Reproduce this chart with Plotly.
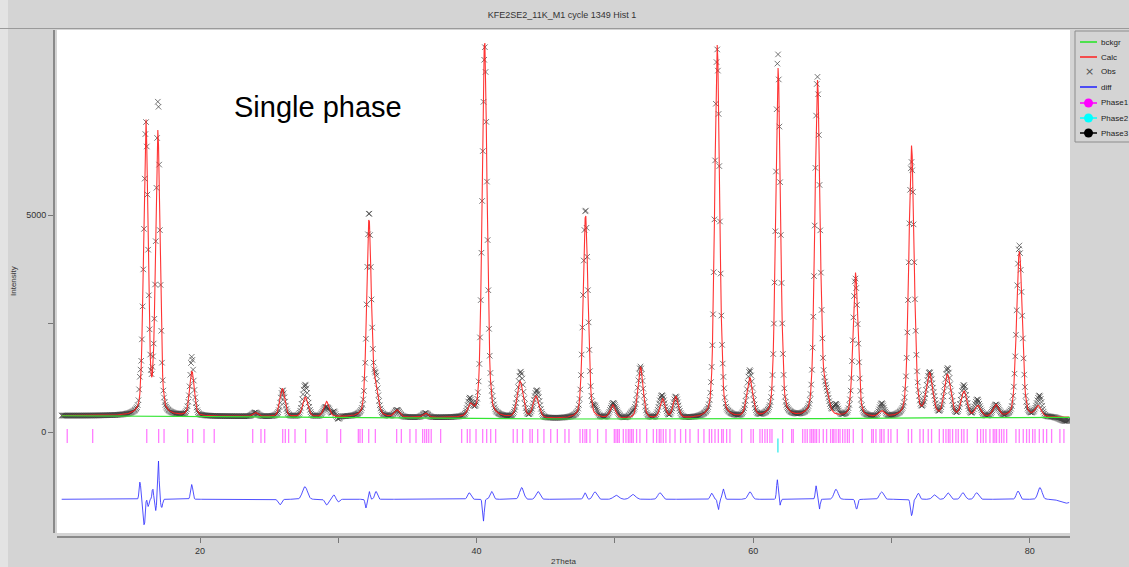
import numpy as np
import plotly.graph_objects as go

# ---------------- data ----------------
TITLE = "KFE2SE2_11K_M1 cycle 1349 Hist 1"

# Bragg peaks of the calculated pattern: position (2theta), height above background, FWHM
peak_pos = [16.08, 16.95, 19.42, 24.0, 25.95, 27.62, 29.15, 32.22, 32.72, 34.25,
            36.3, 39.55, 40.58, 43.15, 44.30, 47.88, 49.85, 51.85, 53.45, 54.40,
            57.40, 59.75, 61.80, 64.65, 65.25, 67.40, 69.3, 71.45, 72.75, 74.05,
            75.25, 76.25, 77.55, 79.25, 80.60]
peak_height = [6800, 6500, 1020, 90, 650, 450, 350, 4550, 600, 160,
               100, 240, 8700, 830, 500, 4700, 300, 1190, 440, 490,
               8600, 900, 8050, 7750, 450, 3330, 130, 6250, 980, 960,
               580, 250, 270, 3820, 240]
peak_fwhm = [0.38, 0.38, 0.40, 0.45, 0.42, 0.45, 0.45, 0.40, 0.42, 0.45,
             0.45, 0.45, 0.42, 0.50, 0.50, 0.42, 0.45, 0.45, 0.45, 0.45,
             0.42, 0.50, 0.42, 0.44, 0.50, 0.42, 0.50, 0.45, 0.55, 0.55,
             0.50, 0.50, 0.50, 0.48, 0.50]
LORENTZ_FRACTION = 0.3

# Background (bckgr) control points
bg_pos = [10.0, 20.0, 30.0, 40.0, 46.0, 55.0, 65.0, 75.0, 82.9]
bg_val = [375, 360, 340, 315, 300, 300, 310, 330, 335]

# Features of the difference curve (Obs - Calc): position, amplitude, width
diff_pos = [15.66, 15.97, 16.26, 16.58, 16.80, 16.99, 17.23, 19.40, 25.78, 27.59,
            29.16, 29.69, 30.0, 32.0, 32.24, 32.73, 39.47, 40.49, 41.09, 43.26,
            44.44, 47.84, 48.56, 50.1, 51.3, 53.26, 57.0, 57.48, 57.84, 59.77,
            61.75, 61.94, 64.55, 64.79, 65.99, 67.48, 69.29, 71.46, 71.94, 73.1,
            74.08, 75.17, 76.16, 79.15, 80.74, 82.6]
diff_amp = [400, -620, -170, 250, -260, 900, -200, 340, -130, 290,
            -130, 100, -60, -200, 180, 180, 150, -510, 180, 270,
            180, 150, 170, 90, 110, 150, 140, -250, 240, 170,
            450, -140, 310, -230, 230, -230, 170, -380, 140, 100,
            150, 150, 150, 190, 270, -90]
diff_width = [0.06, 0.06, 0.05, 0.05, 0.05, 0.05, 0.06, 0.08, 0.12, 0.18,
              0.12, 0.10, 0.10, 0.06, 0.06, 0.10, 0.12, 0.06, 0.12, 0.15,
              0.15, 0.10, 0.15, 0.20, 0.20, 0.15, 0.10, 0.06, 0.08, 0.15,
              0.06, 0.05, 0.06, 0.05, 0.15, 0.08, 0.15, 0.08, 0.10, 0.15,
              0.15, 0.15, 0.15, 0.12, 0.15, 0.40]

# Reflection tick marks
phase1_ticks = [10.40, 12.24, 16.15, 17.01, 17.40, 19.11, 19.47, 20.29, 21.03, 23.81,
                24.41, 24.68, 25.98, 26.17, 26.41, 26.87, 27.64, 29.18, 30.17, 31.45,
                31.57, 31.74, 32.20, 32.68, 34.22, 34.56, 35.18, 35.62, 36.10, 36.25,
                36.39, 36.54, 36.72, 37.40, 38.92, 39.33, 39.52, 39.96, 40.44, 40.73,
                41.02, 41.38, 42.65, 42.94, 43.33, 43.86, 44.03, 44.42, 44.87, 45.36,
                45.84, 46.39, 46.68, 47.48, 47.67, 47.84, 47.96, 48.20, 48.75, 49.36,
                49.96, 50.08, 50.20, 50.32, 50.61, 50.80, 50.97, 51.09, 51.21, 51.33,
                51.57, 51.81, 52.30, 52.78, 53.02, 53.21, 53.33, 53.50, 53.69, 53.98,
                54.35, 54.75, 55.12, 55.43, 56.03, 56.44, 56.83, 57.00, 57.24, 57.48,
                57.72, 57.84, 58.08, 58.32, 59.17, 59.84, 60.01, 60.49, 60.66, 60.85,
                61.02, 61.21, 61.36, 62.13, 62.78, 62.90, 63.58, 63.75, 63.91, 64.11,
                64.23, 64.35, 64.47, 64.59, 64.78, 65.07, 65.31, 65.60, 65.75, 65.84,
                65.99, 66.16, 66.28, 66.47, 66.64, 66.81, 66.95, 67.24, 67.89, 68.57,
                68.69, 68.88, 69.17, 69.29, 69.46, 69.77, 69.96, 70.42, 71.22, 71.46,
                72.06, 72.30, 72.66, 72.90, 73.46, 73.75, 73.94, 74.11, 74.23, 74.42,
                74.66, 74.83, 75.07, 75.24, 75.48, 76.21, 76.45, 76.64, 76.83, 77.12,
                77.36, 77.48, 77.60, 77.80, 77.96, 78.13, 78.33, 79.00, 79.24, 79.53,
                79.77, 79.97, 80.21, 80.38, 80.69, 80.98, 81.22, 81.58, 82.18, 82.47]
phase2_ticks = [61.79]
phase3_ticks = []

X_TICKS = [20, 30, 40, 50, 60, 70, 80]
X_TICK_TEXT = ["20", "", "40", "", "60", "", "80"]
Y_TICKS = [0, 2500, 5000]
Y_TICK_TEXT = ["0", "", "5000"]

TT_START, TT_STOP, TT_STEP = 10.0, 82.9, 0.05

# ---------------- build pattern ----------------
tt = np.arange(TT_START, TT_STOP, TT_STEP)
bckgr = np.interp(tt, bg_pos, bg_val)
calc = bckgr.copy()
for p, h, f in zip(peak_pos, peak_height, peak_fwhm):
    z = (tt - p) / f
    g = np.exp(-4 * np.log(2) * z ** 2)
    lo = 1.0 / (1.0 + 4 * z ** 2)
    calc += h * ((1 - LORENTZ_FRACTION) * g + LORENTZ_FRACTION * lo)
dev = np.zeros_like(tt)
for p, a, w in zip(diff_pos, diff_amp, diff_width):
    dev += a * np.exp(-0.5 * ((tt - p) / w) ** 2)
obs = calc + dev
DIFF_OFFSET = -1550
diff = obs - calc + DIFF_OFFSET

TICK1_Y = -92
TICK2_Y = -311

# ---------------- layout geometry ----------------
W, H = 1129, 567
L, R, T, B = 54, 59, 30, 30
PW, PH = W - L - R, H - T - B


def px_x(p):
    return (p - L) / PW


def px_y(p):
    return (H - B - p) / PH


X_RANGE = [9.66, 82.91]
Y_RANGE = [-2327, 9263]

fig = go.Figure()
fig.add_trace(go.Scatter(x=tt, y=obs, mode="markers", name="Obs", showlegend=False,
                         marker=dict(symbol="x-thin", size=5.5,
                                     line=dict(width=1, color="rgba(60,60,60,0.7)"))))
fig.add_trace(go.Scatter(x=tt, y=calc, mode="lines", name="Calc", showlegend=False,
                         line=dict(color="rgba(255,30,30,0.9)", width=1.1)))
fig.add_trace(go.Scatter(x=bg_pos, y=bg_val, mode="lines", name="bckgr", showlegend=False,
                         line=dict(color="#33e633", width=1.2)))
fig.add_trace(go.Scatter(x=tt, y=diff, mode="lines", name="diff", showlegend=False,
                         line=dict(color="rgba(50,50,255,0.85)", width=1)))
fig.add_trace(go.Scatter(x=phase1_ticks, y=[TICK1_Y] * len(phase1_ticks), mode="markers",
                         name="Phase1", showlegend=False,
                         marker=dict(symbol="line-ns", size=10,
                                     line=dict(width=1.3, color="rgba(255,70,255,0.7)"))))
fig.add_trace(go.Scatter(x=phase2_ticks, y=[TICK2_Y] * len(phase2_ticks), mode="markers",
                         name="Phase2", showlegend=False,
                         marker=dict(symbol="line-ns", size=10,
                                     line=dict(width=1.3, color="rgba(0,230,230,0.8)"))))
fig.add_trace(go.Scatter(x=phase3_ticks, y=[], mode="markers", name="Phase3", showlegend=False,
                         marker=dict(symbol="line-ns", size=10, line=dict(width=1.3, color="black"))))

axis_font = dict(family="Liberation Sans, Arial", size=9, color="#333")
fig.update_layout(
    width=W, height=H,
    margin=dict(l=L, r=R, t=T, b=B, autoexpand=False),
    paper_bgcolor="#d4d4d4", plot_bgcolor="white",
    showlegend=False,
    title=dict(text=TITLE, x=562 / W, y=1 - 15 / H, xref="container", yref="container",
               xanchor="center", yanchor="middle",
               font=dict(family="Liberation Sans, Arial", size=9, color="#333")),
    xaxis=dict(range=X_RANGE, domain=[px_x(57), 1], anchor="free", position=0,
               tickvals=X_TICKS, ticktext=X_TICK_TEXT, ticks="outside", ticklen=5,
               tickcolor="#777", showline=True, linecolor="#8a8a8a", linewidth=2,
               showgrid=False, zeroline=False, tickfont=axis_font),
    yaxis=dict(range=Y_RANGE, domain=[px_y(533), 1], anchor="free", position=0,
               tickvals=Y_TICKS, ticktext=Y_TICK_TEXT, ticks="outside", ticklen=5,
               tickcolor="#777", showline=True, linecolor="#8a8a8a", linewidth=2,
               showgrid=False, zeroline=False, tickfont=axis_font),
)

shapes = [
    dict(type="rect", xref="paper", yref="paper", x0=px_x(0), x1=px_x(8), y0=px_y(H), y1=px_y(0),
         fillcolor="#e3e3e3", line=dict(width=0), layer="below"),
    dict(type="line", xref="paper", yref="paper", x0=px_x(0), x1=px_x(W), y0=px_y(28.5), y1=px_y(28.5),
         line=dict(color="#9a9a9a", width=1)),
    dict(type="rect", xref="paper", yref="paper", x0=px_x(1075), x1=px_x(1140), y0=px_y(142), y1=px_y(31),
         fillcolor="#d4d4d4", line=dict(color="#8c8c8c", width=1)),
]
annotations = [
    dict(text="Single phase", xref="paper", yref="paper", x=px_x(232), y=px_y(107),
         xanchor="left", yanchor="middle", showarrow=False,
         font=dict(family="Liberation Sans, Arial", size=29, color="black")),
    dict(text="2Theta", xref="paper", yref="paper", x=px_x(563), y=px_y(561),
         xanchor="center", yanchor="middle", showarrow=False, font=dict(axis_font, size=8)),
    dict(text="Intensity", xref="paper", yref="paper", x=px_x(13), y=px_y(281), textangle=-90,
         xanchor="center", yanchor="middle", showarrow=False, font=dict(axis_font, size=8)),
]

# manual legend like the GSAS one
legend_items = [("bckgr", "line", "#22e622"), ("Calc", "line", "#ff2020"), ("Obs", "x", "#555"),
                ("diff", "line", "#2020ff"), ("Phase1", "dot", "#ff00ff"),
                ("Phase2", "dot", "#00ffff"), ("Phase3", "dot", "#000000")]
legend_y = [42, 57, 72, 87, 103, 118, 133]
for (name, kind, col), yy in zip(legend_items, legend_y):
    if kind in ("line", "dot"):
        shapes.append(dict(type="line", xref="paper", yref="paper", x0=px_x(1080), x1=px_x(1097),
                           y0=px_y(yy), y1=px_y(yy), line=dict(color=col, width=1.5)))
    if kind == "dot":
        shapes.append(dict(type="circle", xref="paper", yref="paper", xsizemode="pixel",
                           ysizemode="pixel", xanchor=px_x(1088.5), yanchor=px_y(yy),
                           x0=-4.5, x1=4.5, y0=-4.5, y1=4.5, fillcolor=col, line=dict(color=col, width=0)))
    if kind == "x":
        annotations.append(dict(text="×", xref="paper", yref="paper", x=px_x(1089), y=px_y(yy),
                                xanchor="center", yanchor="middle", showarrow=False,
                                font=dict(family="DejaVu Sans", size=11, color=col)))
    annotations.append(dict(text=name, xref="paper", yref="paper", x=px_x(1099), y=px_y(yy),
                            xanchor="left", yanchor="middle", showarrow=False,
                            font=dict(family="Liberation Sans, Arial", size=8, color="#222")))

fig.update_layout(shapes=shapes, annotations=annotations)
fig.write_html("out.html")
